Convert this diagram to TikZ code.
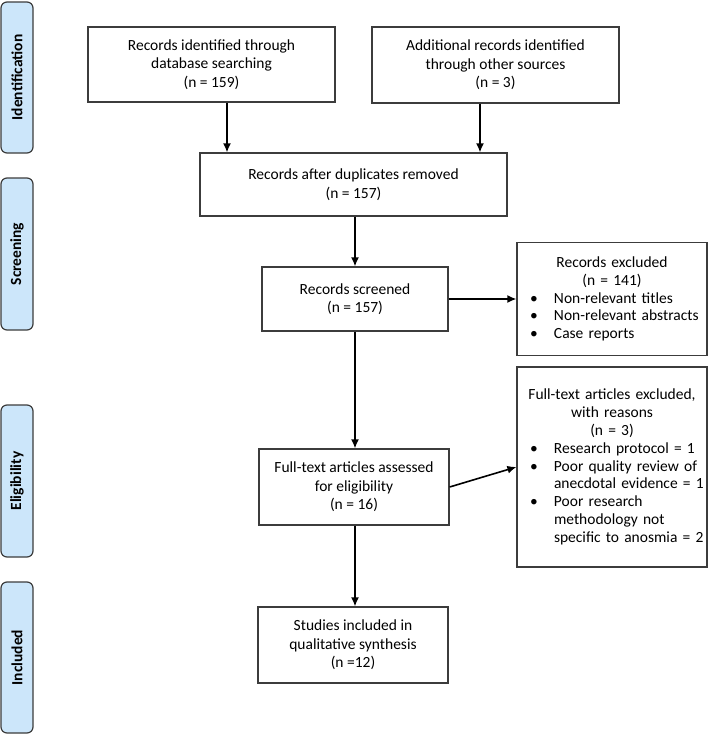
\documentclass[tikz,border=0pt]{standalone}
\usepackage{fontspec}
\setmainfont{Carlito}
\usetikzlibrary{arrows.meta}
\definecolor{lab}{HTML}{CCE6FA}
\definecolor{edge}{HTML}{3C3C3C}
\newcommand\bitem{\par\noindent\hspace*{11pt}\makebox[24pt][l]{\textbullet}}
\newcommand\bcont{\par\noindent\hspace*{35pt}}
\tikzset{
 box/.style={draw=edge, line width=1.2pt, align=center, inner sep=0pt, font=\fontsize{15.5}{18.5}\selectfont},
 listbox/.style={draw=edge, line width=1.2pt, inner sep=0pt, text width=186pt, font=\fontsize{15.5}{17.8}\selectfont},
 phase/.style={draw=edge, fill=lab, rounded corners=6pt, line width=1.2pt, rotate=90, inner sep=0pt, font=\fontsize{15.5}{17}\selectfont\bfseries},
 arr/.style={line width=1.6pt, -{Latex[length=9pt,width=8pt]}},
}
\begin{document}
\begin{tikzpicture}[x=1pt,y=-1pt]
\useasboundingbox (0,0) rectangle (709,734);
% phase labels
\node[phase, minimum width=151, minimum height=32] (pid) at (17,77.5) {Identification};
\node[phase, minimum width=152, minimum height=32] (psc) at (17,254) {Screening};
\node[phase, minimum width=152, minimum height=32] (pel) at (17,481) {Eligibility};
\node[phase, minimum width=151, minimum height=32] (pin) at (17,657.5) {Included};
% boxes
\node[box, minimum width=247, minimum height=75] (id1) at (211.5,64.5) {Records identified through\\database searching\\(n = 159)};
\node[box, minimum width=247, minimum height=76] (id2) at (495.5,65) {Additional records identified\\through other sources\\(n = 3)};
\node[box, minimum width=307, minimum height=63] (dup) at (353.5,184.5) {Records after duplicates removed\\(n = 157)};
\node[box, minimum width=186, minimum height=64] (scr) at (355,299) {Records screened\\(n = 157)};
\node[listbox, minimum width=190, minimum height=113] (exc) at (612,299) {{\centering Records excluded\\(n = 141)\par}\bitem Non-relevant titles\bitem Non-relevant abstracts\bitem Case reports\par};
\node[listbox, minimum width=190, minimum height=200] (fte) at (612,467) {{\centering Full-text articles excluded,\\with reasons\\(n = 3)\par}\bitem Research protocol = 1\bitem Poor quality review of\bcont anecdotal evidence = 1\bitem Poor research\bcont methodology not\bcont specific to anosmia = 2\par\vspace*{14pt}};
\node[box, minimum width=190, minimum height=76] (fta) at (354,487) {Full-text articles assessed\\for eligibility\\(n = 16)};
\node[box, minimum width=190, minimum height=76] (inc) at (353,645) {Studies included in\\qualitative synthesis\\(n =12)};
% arrows
\draw[arr] ([xshift=15.5pt]id1.south) -- ([xshift=15.5pt]id1.south |- dup.north);
\draw[arr] ([xshift=-15.5pt]id2.south) -- ([xshift=-15.5pt]id2.south |- dup.north);
\draw[arr] (scr.north |- dup.south) -- (scr.north);
\draw[arr] (scr.east) -- (exc.west);
\draw[arr] (scr.south) -- (scr.south |- fta.north);
\draw[arr] (fta.east) -- (fte.west);
\draw[arr] (fta.south -| scr.south) -- (inc.north -| scr.south);
\end{tikzpicture}
\end{document}
